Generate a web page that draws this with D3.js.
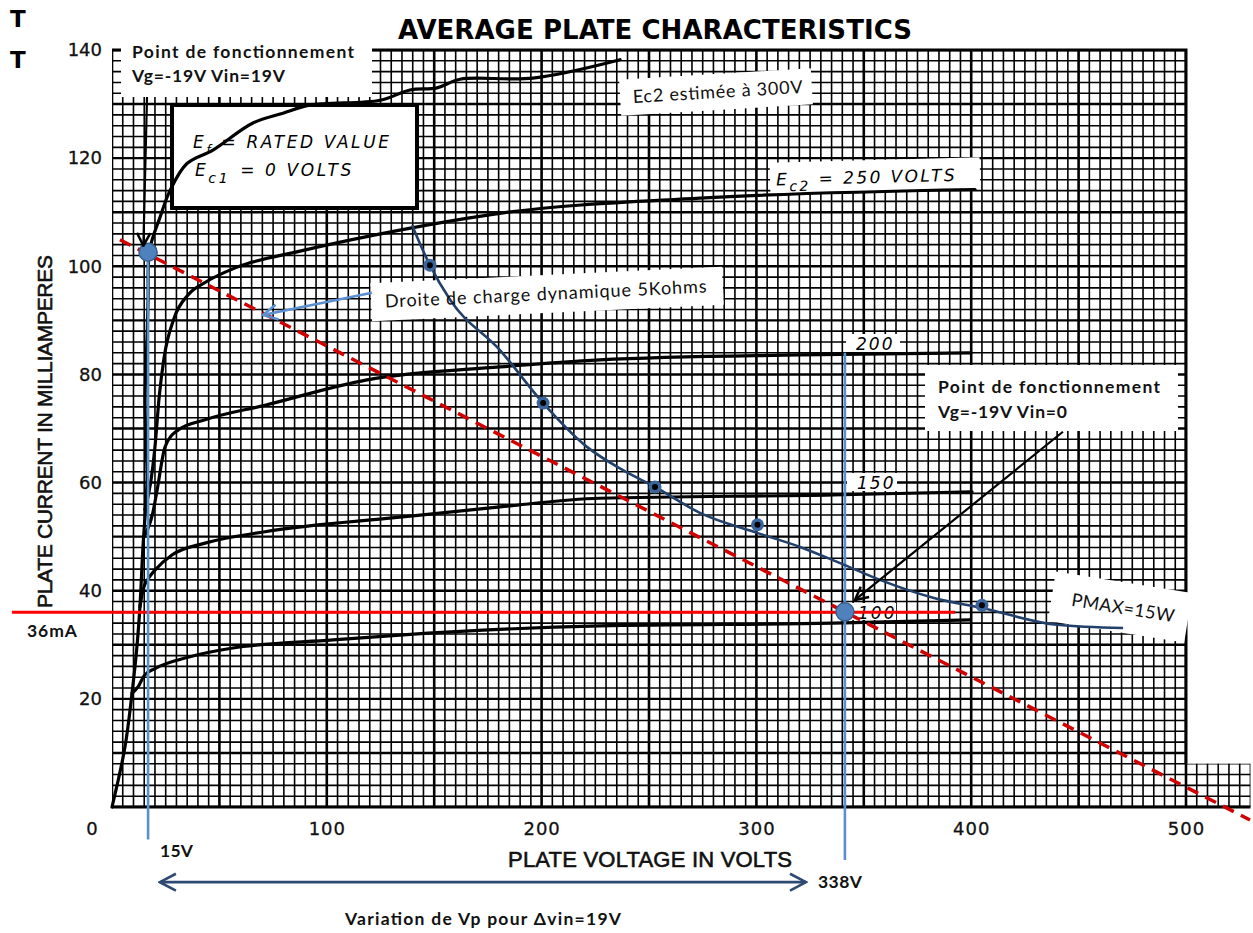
<!DOCTYPE html>
<html>
<head>
<meta charset="utf-8">
<script src="https://cdn.jsdelivr.net/npm/d3@7/dist/d3.min.js"></script>
<style>
  body { margin: 0; background: #fff; }
  svg { display: block; }
</style>
</head>
<body>
<div id="chart"></div>
<script>
// values: [plate volts, plate mA]
var xTicks = [100, 200, 300, 400, 500];
var yTicks = [20, 40, 60, 80, 100, 120, 140];

var ec2_300 = [[0,0],[6,11],[9.3,21],[11.6,29.6],[13,37],[14.4,48],[16.3,60.5],[15.6,70],[15.4,76],[16.4,88],[16.8,94],[17.5,103],
  [22.3,109],[27,114],[34.9,119],[47,121.5],[65.6,126.5],[79.6,128.3],[92.2,129.8],[124.8,130.7],[138.7,132.6],
  [151.3,133],[162,134.6],[196,134.8],[236.5,138.2]];
var ec2_250 = [[15.3,55],[18,60],[20,66.6],[22,76],[24.2,83],[28.9,90.4],[35.4,94.7],[43.3,97],[58,99.8],
  [87.5,102.8],[134,106.7],[180.6,109.8],[273.7,112.6],[401.8,114.2]];
var ec2_200 = [[15,50],[19,54.4],[21,58.6],[24.7,66.6],[30.7,69.7],[43.3,71.6],[71.2,74.3],[118.7,79],[180.6,81.4],
  [227,82.7],[320,83.6],[400,84]];
var ec2_150 = [[13,37],[14.4,40.1],[17,42.3],[20,43.8],[27.9,46.6],[43.3,48.8],[71.2,50.9],[134,53.6],[180.6,55.5],
  [227,57.1],[335.7,57.7],[400.4,58.3]];
var ec2_100 = [[9.3,21],[12.1,22.2],[15,24.3],[20,25.6],[35.4,27.7],[56.3,29.4],[102.9,30.9],[134,31.8],[227,33.5],
  [335.7,34],[399.4,34.6]];

var pmaxCurve = [[139.7,107.6],[148,100.2],[157.4,93.8],[180.6,84.5],[200.7,74.7],[221.1,66.6],[237.9,62.3],[252.8,59.2],
  [273.7,54.4],[300.3,50.7],[320.3,48.1],[339,45.1],[357.5,42],[382.2,38.7],[405,36.8],[440,33.7],[470.7,33.1]];
var pmaxDots = [[148,100.2],[200.7,74.7],[252.8,59.2],[300.5,52.2],[405,37.3]];

var loadLine = [[3.7,104.9],[529.8,-2.4]];
var opPoints = [[16.8,102.6],[341.2,36.1]];
var opDrops = [[16.8,102.6,-6],[341.2,84,-9.8]];   // volts, top mA, bottom mA
var currentLine = [[-46.6,36],[392.5,36]];

var arrowBlack = [[[16.3,131.3],[14.6,103.8]], [[442.7,69.4],[345.9,38.3]]];
var arrowBlue = [[121,95.1],[70.3,91]];
var vpSwing = [[22.3,-13.9],[323.1,-13.9]];

var W = 1253, H = 933;
var svg = d3.select('#chart').append('svg').attr('width', W).attr('height', H);

var x = d3.scaleLinear().domain([0, 500]).range([112, 1186]);
var y = d3.scaleLinear().domain([0, 140]).range([807, 50]);

var defs = svg.append('defs');
function chevron(id, color, size, sw) {
  defs.append('marker')
    .attr('id', id).attr('viewBox', '0 0 10 10').attr('refX', 9).attr('refY', 5)
    .attr('markerUnits', 'userSpaceOnUse').attr('markerWidth', size).attr('markerHeight', size)
    .attr('orient', 'auto-start-reverse')
    .append('path').attr('d', 'M1,0.8 L9,5 L1,9.2').attr('fill', 'none')
    .attr('stroke', color).attr('stroke-width', sw);
}
chevron('arrBlack', '#000', 16, 1.6);
chevron('arrBlue', '#5b8fd0', 18, 1.4);
chevron('arrNavy', '#2e4a72', 20, 1.3);

// paper area: full grid plus the little strip pasted beyond 500 V
defs.append('clipPath').attr('id', 'paper')
  .append('path')
  .attr('d', 'M' + x(0) + ',' + y(140) + 'H' + x(500) + 'V' + y(8) + 'H' + x(530) + 'V' + y(0) + 'H' + x(0) + 'Z');

var grid = svg.append('g').attr('clip-path', 'url(#paper)');
grid.selectAll('line.v').data(d3.range(0, 531, 5)).enter().append('line')
  .attr('x1', function(d) { return x(d); }).attr('x2', function(d) { return x(d); })
  .attr('y1', y(0)).attr('y2', y(140))
  .attr('stroke', '#000')
  .attr('stroke-width', function(d) { return d % 50 === 0 ? 2.6 : 1.6; });
grid.selectAll('line.h').data(d3.range(0, 141, 2)).enter().append('line')
  .attr('y1', function(d) { return y(d); }).attr('y2', function(d) { return y(d); })
  .attr('x1', x(0)).attr('x2', x(530))
  .attr('stroke', '#000')
  .attr('stroke-width', function(d) { return d % 10 === 0 ? 2.4 : 1.6; });

// border of the sheet
svg.append('path')
  .attr('d', 'M' + x(0) + ',' + y(140) + 'H' + x(500) + 'V' + y(8) + 'M' + x(530) + ',' + y(0) + 'H' + x(0) + 'Z')
  .attr('fill', 'none').attr('stroke', '#000').attr('stroke-width', 3);

// white patch under the top-left note
svg.append('rect').attr('x', 121).attr('y', 36).attr('width', 251).attr('height', 61).attr('fill', '#fff');

// datasheet curve labels backgrounds
var curveTags = [
  { t: '200', x: 846, y: 334, w: 54, h: 18, tx: 856, ty: 350 },
  { t: '150', x: 847, y: 473, w: 50, h: 18, tx: 857, ty: 489 },
  { t: '100', x: 850, y: 603, w: 46, h: 17, tx: 858, ty: 619 }
];
svg.selectAll('rect.tag').data(curveTags).enter().append('rect')
  .attr('x', function(d) { return d.x; }).attr('y', function(d) { return d.y; })
  .attr('width', function(d) { return d.w; }).attr('height', function(d) { return d.h; })
  .attr('fill', '#fff');
svg.append('rect').attr('x', 770).attr('y', 160).attr('width', 210).attr('height', 31)
  .attr('fill', '#fff').attr('transform', 'rotate(-1.5,875,176)');

// rated value box
svg.append('rect').attr('x', 172).attr('y', 105).attr('width', 245).attr('height', 103)
  .attr('fill', '#fff').attr('stroke', '#000').attr('stroke-width', 4);
var boxText = svg.append('g').attr('font-family', 'DejaVu Sans').attr('font-style', 'italic')
  .attr('font-size', 17).attr('fill', '#000').attr('letter-spacing', 2.6);
var l1 = boxText.append('text').attr('x', 193).attr('y', 148);
l1.append('tspan').text('E');
l1.append('tspan').attr('dy', 6).attr('font-size', 13).text('f');
l1.append('tspan').attr('dy', -6).attr('dx', 8).text('= RATED VALUE');
var l2 = boxText.append('text').attr('x', 195).attr('y', 176);
l2.append('tspan').text('E');
l2.append('tspan').attr('dy', 7).attr('font-size', 14).text('c1');
l2.append('tspan').attr('dy', -7).attr('dx', 10).text('= 0 VOLTS');

// plate curves
function xy(d) { return [x(d[0]), y(d[1])]; }
var lineRom = d3.line().x(function(d) { return x(d[0]); }).y(function(d) { return y(d[1]); })
  .curve(d3.curveCatmullRom.alpha(0.5));
var lineMono = d3.line().x(function(d) { return x(d[0]); }).y(function(d) { return y(d[1]); })
  .curve(d3.curveMonotoneX);
var curveStyle = function(sel) {
  sel.attr('fill', 'none').attr('stroke', '#000')
    .attr('stroke-width', 3.2).attr('stroke-linejoin', 'round').attr('stroke-linecap', 'round');
};
svg.append('path').datum(ec2_300).attr('d', lineRom).call(curveStyle);
svg.append('g').selectAll('path').data([ec2_250, ec2_200, ec2_150, ec2_100]).enter().append('path')
  .attr('d', lineMono).call(curveStyle);

// curve labels
svg.selectAll('text.tag').data(curveTags).enter().append('text')
  .attr('x', function(d) { return d.tx; }).attr('y', function(d) { return d.ty; })
  .attr('font-family', 'DejaVu Sans').attr('font-style', 'italic').attr('font-size', 17)
  .attr('letter-spacing', 2).attr('fill', '#000')
  .text(function(d) { return d.t; });
var e250 = svg.append('text').attr('x', 776).attr('y', 183)
  .attr('font-family', 'DejaVu Sans').attr('font-style', 'italic').attr('font-size', 17)
  .attr('letter-spacing', 2.4).attr('fill', '#000').attr('transform', 'rotate(-1.5,875,176)');
e250.append('tspan').text('E');
e250.append('tspan').attr('dy', 6).attr('font-size', 14).text('c2');
e250.append('tspan').attr('dy', -6).attr('dx', 8).text('= 250 VOLTS');

// title and axes
svg.append('text').attr('x', 398).attr('y', 39).attr('textLength', 514)
  .attr('font-family', 'DejaVu Sans').attr('font-weight', 'bold').attr('font-size', 26)
  .text('AVERAGE PLATE CHARACTERISTICS');
svg.selectAll('text.T').data([27, 68]).enter().append('text')
  .attr('x', 10).attr('y', function(d) { return d; })
  .attr('font-family', 'DejaVu Sans').attr('font-weight', 'bold').attr('font-size', 23).text('T');

var xAxis = svg.append('g').attr('transform', 'translate(0,' + y(0) + ')')
  .call(d3.axisBottom(x).tickValues(xTicks).tickSize(0).tickPadding(15));
var yAxis = svg.append('g').attr('transform', 'translate(' + x(0) + ',0)')
  .call(d3.axisLeft(y).tickValues(yTicks).tickSize(0).tickPadding(10));
[xAxis, yAxis].forEach(function(a) {
  a.select('.domain').remove();
  a.selectAll('text').attr('font-family', 'DejaVu Sans').attr('font-size', 18).attr('fill', '#111')
    .attr('stroke', '#111').attr('stroke-width', 0.3);
});
xAxis.selectAll('text').attr('letter-spacing', 1);
svg.append('text').attr('x', 92).attr('y', 835).attr('text-anchor', 'middle')
  .attr('font-family', 'DejaVu Sans').attr('font-size', 18).attr('fill', '#111')
  .attr('stroke', '#111').attr('stroke-width', 0.3).text('0');

svg.append('text').attr('x', 508).attr('y', 867).attr('textLength', 284)
  .attr('font-family', 'Liberation Sans').attr('font-size', 22).attr('fill', '#111')
  .attr('stroke', '#111').attr('stroke-width', 0.6)
  .text('PLATE VOLTAGE IN VOLTS');
svg.append('text').attr('transform', 'translate(52,608) rotate(-90)').attr('textLength', 353)
  .attr('font-family', 'Liberation Sans').attr('font-size', 21).attr('fill', '#111')
  .attr('stroke', '#111').attr('stroke-width', 0.6)
  .text('PLATE CURRENT IN MILLIAMPERES');

// annotation boxes (under the annotation curves)
function noteBox(cx, cy, w, h, angle) {
  svg.append('rect').attr('x', cx - w / 2).attr('y', cy - h / 2).attr('width', w).attr('height', h)
    .attr('fill', '#fff').attr('transform', 'rotate(' + angle + ',' + cx + ',' + cy + ')');
}
function noteText(cx, cy, str, len, angle, size) {
  svg.append('text').attr('x', cx).attr('y', cy).attr('text-anchor', 'middle')
    .attr('textLength', len).attr('font-family', 'Lato, "Open Sans", sans-serif')
    .attr('font-size', size).attr('fill', '#111')
    .attr('transform', 'rotate(' + angle + ',' + cx + ',' + cy + ')')
    .text(str);
}
noteBox(716, 92, 192, 36, -3.4);
noteBox(547, 294, 352, 38, -2.7);
noteBox(1120, 607, 138, 50, 9);
svg.append('rect').attr('x', 925).attr('y', 365).attr('width', 253).attr('height', 66).attr('fill', '#fff');

// load line, current line, verticals
var straight = d3.line().x(function(d) { return x(d[0]); }).y(function(d) { return y(d[1]); });
svg.append('path').datum(loadLine).attr('d', straight)
  .attr('stroke', '#d00000').attr('stroke-width', 3.5).attr('stroke-dasharray', '12,8').attr('fill', 'none');
svg.append('path').datum(currentLine).attr('d', straight)
  .attr('stroke', '#ff0000').attr('stroke-width', 3).attr('fill', 'none');
svg.selectAll('line.drop').data(opDrops).enter().append('line')
  .attr('x1', function(d) { return x(d[0]); }).attr('x2', function(d) { return x(d[0]); })
  .attr('y1', function(d) { return y(d[1]); }).attr('y2', function(d) { return y(d[2]); })
  .attr('stroke', '#5b8fd0').attr('stroke-width', 2.6);

// Pmax hyperbola drawn by hand
svg.append('path').datum(pmaxCurve).attr('d', lineMono)
  .attr('fill', 'none').attr('stroke', '#22406a').attr('stroke-width', 2.6);
var dots = svg.append('g').selectAll('g').data(pmaxDots).enter().append('g')
  .attr('transform', function(d) { return 'translate(' + xy(d) + ')'; });
dots.append('circle').attr('r', 6.5).attr('fill', '#3b659a');
dots.append('circle').attr('r', 3).attr('fill', '#000');

svg.selectAll('circle.op').data(opPoints).enter().append('circle')
  .attr('cx', function(d) { return x(d[0]); }).attr('cy', function(d) { return y(d[1]); })
  .attr('r', 9).attr('fill', '#4f81bd').attr('stroke', '#35608f').attr('stroke-width', 1.5);

// arrows
arrowBlack.forEach(function(a) {
  svg.append('line').attr('x1', x(a[0][0])).attr('y1', y(a[0][1])).attr('x2', x(a[1][0])).attr('y2', y(a[1][1]))
    .attr('stroke', '#000').attr('stroke-width', 2.2).attr('marker-end', 'url(#arrBlack)');
});
svg.append('line').attr('x1', x(arrowBlue[0][0])).attr('y1', y(arrowBlue[0][1]))
  .attr('x2', x(arrowBlue[1][0])).attr('y2', y(arrowBlue[1][1]))
  .attr('stroke', '#5b8fd0').attr('stroke-width', 2.6).attr('marker-end', 'url(#arrBlue)');
svg.append('line').attr('x1', x(vpSwing[0][0])).attr('y1', y(vpSwing[0][1]))
  .attr('x2', x(vpSwing[1][0])).attr('y2', y(vpSwing[1][1]))
  .attr('stroke', '#2e4a72').attr('stroke-width', 2.6)
  .attr('marker-start', 'url(#arrNavy)').attr('marker-end', 'url(#arrNavy)');

// annotation texts
var bold = svg.append('g').attr('font-family', 'Lato, "Open Sans", sans-serif').attr('font-weight', 'bold')
  .attr('font-size', 17.5).attr('fill', '#111');
bold.append('text').attr('x', 132).attr('y', 58).attr('textLength', 222).text('Point de fonctionnement');
bold.append('text').attr('x', 132).attr('y', 82).attr('textLength', 153).text('Vg=-19V Vin=19V');
bold.append('text').attr('x', 938).attr('y', 393).attr('textLength', 222).text('Point de fonctionnement');
bold.append('text').attr('x', 938).attr('y', 418).attr('textLength', 129).text('Vg=-19V Vin=0');
bold.append('text').attr('x', 27).attr('y', 637).attr('textLength', 50).text('36mA');
bold.append('text').attr('x', 160).attr('y', 857).attr('textLength', 33).text('15V');
bold.append('text').attr('x', 818).attr('y', 888).attr('textLength', 44).text('338V');
bold.append('text').attr('x', 345).attr('y', 925).attr('textLength', 276).text('Variation de Vp pour \u0394vin=19V');

noteText(718, 98, 'Ec2 estimée à 300V', 170, -3.4, 18);
noteText(546, 300, 'Droite de charge dynamique 5Kohms', 322, -2.7, 18);
noteText(1122, 614, 'PMAX=15W', 104, 9, 18);
</script>
</body>
</html>
